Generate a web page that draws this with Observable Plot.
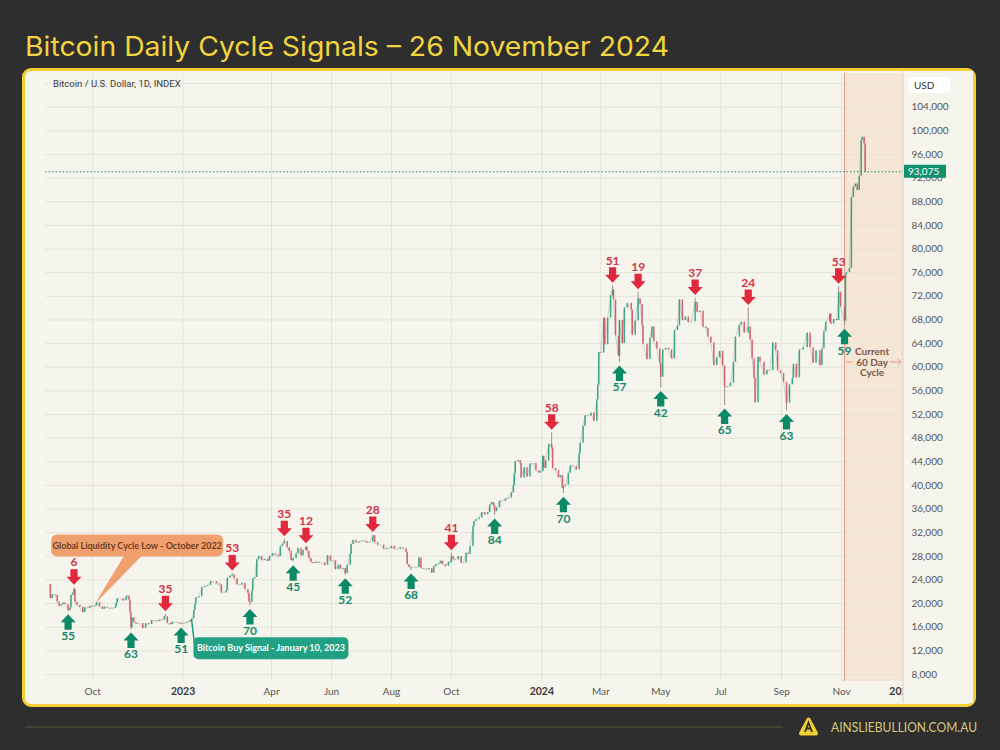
<!DOCTYPE html>
<html>
<head>
<meta charset="utf-8">
<script src="https://cdn.jsdelivr.net/npm/d3@7"></script>
<script src="https://cdn.jsdelivr.net/npm/@observablehq/plot@0.6"></script>
<style>
  html, body { margin:0; padding:0; }
  body { width:1000px; height:750px; background:#2e2e2e; position:relative; overflow:hidden; font-family: Lato, "Open Sans", sans-serif; }
  #card { position:absolute; left:22px; top:68px; width:954px; height:639px; box-sizing:border-box; border:3px solid #f2cf35; border-radius:9px; background:#f6f5ed; }
  #chart { position:absolute; left:25px; top:71px; }
  #sym { position:absolute; left:53px; top:78px; font-size:9.5px; color:#3a3a3a; font-family: Roboto, Lato, sans-serif; }
  #deco { position:absolute; left:0; top:0; }
</style>
</head>
<body>
<svg id="deco" width="1000" height="750">
  <text id="title" x="25" y="56" textLength="644" lengthAdjust="spacingAndGlyphs" font-family="Inter, Lato, sans-serif" font-size="27" fill="#f1d43f">Bitcoin Daily Cycle Signals – 26 November 2024</text>
  <line x1="25" y1="727" x2="783" y2="727" stroke="#5c5932" stroke-width="1"/>
  <path d="M808.5 719.5 L816 733.5 L801 733.5 Z" fill="#f2cf35" stroke="#f2cf35" stroke-width="4" stroke-linejoin="round"/>
  <path d="M805 732 L808.5 722.5 L812 732 M806.3 728.5 L810.7 728.5" fill="none" stroke="#2e2e2e" stroke-width="1.8"/>
  <text x="831" y="732" textLength="146" lengthAdjust="spacingAndGlyphs" font-family="Lato, sans-serif" font-size="13.5" fill="#d2c87a">AINSLIEBULLION.COM.AU</text>
</svg>
<div id="card"></div>
<div id="chart"></div>
<div id="sym">Bitcoin / U.S. Dollar, 1D, INDEX</div>
<script>
// ---------------- DATA ----------------
const series = [
["2022-08-18",23200],["2022-08-19",20850],["2022-08-21",21500],["2022-08-24",21400],["2022-08-26",20250],["2022-08-28",19550],["2022-08-30",19800],
["2022-09-01",20100],["2022-09-03",19850],["2022-09-06",18800],["2022-09-08",19300],["2022-09-09",21350],["2022-09-11",21800],["2022-09-12",22400],
["2022-09-13",20200],["2022-09-15",19700],["2022-09-18",19400],["2022-09-21",18500],["2022-09-23",19300],["2022-09-26",19200],["2022-09-28",19550],
["2022-09-30",19450],["2022-10-03",19600],["2022-10-05",20150],["2022-10-08",19450],["2022-10-11",19050],["2022-10-13",19400],["2022-10-16",19250],
["2022-10-19",19150],["2022-10-21",19200],["2022-10-24",19350],["2022-10-25",20100],["2022-10-26",20800],["2022-10-29",20800],["2022-11-01",20500],
["2022-11-04",21150],["2022-11-05",21300],["2022-11-07",20600],["2022-11-08",18550],["2022-11-09",15900],["2022-11-10",17600],["2022-11-12",16800],
["2022-11-14",16600],["2022-11-17",16650],["2022-11-21",15800],["2022-11-24",16600],["2022-11-27",16450],["2022-11-30",17150],["2022-12-02",17100],
["2022-12-05",16950],["2022-12-08",17200],["2022-12-10",17150],["2022-12-13",17800],["2022-12-14",17800],["2022-12-16",16650],["2022-12-19",16450],
["2022-12-21",16850],["2022-12-24",16850],["2022-12-27",16700],["2022-12-30",16600],
["2023-01-02",16680],["2023-01-05",16850],["2023-01-08",17100],["2023-01-10",17450],["2023-01-12",18850],["2023-01-13",19900],["2023-01-14",20950],
["2023-01-17",21150],["2023-01-20",22700],["2023-01-23",22900],["2023-01-26",23050],["2023-01-29",23750],["2023-02-01",23700],["2023-02-04",23350],
["2023-02-07",23200],["2023-02-09",21800],["2023-02-12",21800],["2023-02-14",22200],["2023-02-15",24300],["2023-02-18",24650],["2023-02-20",24850],
["2023-02-22",24200],["2023-02-25",23200],["2023-02-28",23150],["2023-03-02",23450],["2023-03-05",22400],["2023-03-08",21750],["2023-03-09",20350],
["2023-03-10",20200],["2023-03-12",22150],["2023-03-13",24200],["2023-03-15",24400],["2023-03-17",27400],["2023-03-19",28000],["2023-03-22",27300],
["2023-03-25",27500],["2023-03-28",27150],["2023-03-30",28000],["2023-04-02",28450],["2023-04-05",28200],["2023-04-08",27950],["2023-04-10",29650],
["2023-04-12",30100],["2023-04-14",30500],["2023-04-17",29450],["2023-04-19",28800],["2023-04-21",27300],["2023-04-23",27600],["2023-04-26",28400],
["2023-04-28",29350],["2023-05-01",28100],["2023-05-03",29000],["2023-05-06",29550],["2023-05-07",28850],["2023-05-09",27650],["2023-05-11",26950],
["2023-05-13",26800],["2023-05-16",27050],["2023-05-19",26900],["2023-05-22",26850],["2023-05-25",26450],["2023-05-28",28100],["2023-05-31",27200],
["2023-06-03",27250],["2023-06-05",25750],["2023-06-08",26500],["2023-06-10",25850],["2023-06-13",25950],["2023-06-15",25100],["2023-06-17",26500],
["2023-06-20",28300],["2023-06-21",30000],["2023-06-23",30700],["2023-06-26",30300],["2023-06-29",30450],["2023-07-02",30600],["2023-07-05",30500],
["2023-07-07",30300],["2023-07-10",30400],["2023-07-13",31500],["2023-07-15",30300],["2023-07-18",29900],["2023-07-21",29900],["2023-07-24",29200],
["2023-07-27",29350],["2023-07-30",29300],["2023-08-01",29700],["2023-08-04",29200],["2023-08-07",29200],["2023-08-10",29450],["2023-08-13",29300],
["2023-08-16",28700],["2023-08-17",26600],["2023-08-19",26100],["2023-08-21",26150],["2023-08-25",26100],["2023-08-28",26100],["2023-08-29",27700],
["2023-08-31",25950],["2023-09-03",25850],["2023-09-06",25750],["2023-09-08",25900],["2023-09-11",25150],["2023-09-13",26250],["2023-09-15",26600],
["2023-09-18",26750],["2023-09-20",27200],["2023-09-22",26600],["2023-09-25",26300],["2023-09-28",27000],["2023-09-30",26950],["2023-10-01",27950],
["2023-10-03",27450],["2023-10-05",27400],["2023-10-08",27950],["2023-10-11",26850],["2023-10-13",26850],["2023-10-16",28500],["2023-10-18",28350],
["2023-10-20",29650],["2023-10-23",33000],["2023-10-24",33900],["2023-10-26",34200],["2023-10-29",34500],["2023-11-01",35400],["2023-11-04",35050],
["2023-11-07",35400],["2023-11-09",36700],["2023-11-11",37100],["2023-11-13",36500],["2023-11-14",35550],["2023-11-16",36200],["2023-11-19",37350],
["2023-11-22",37300],["2023-11-25",37750],["2023-11-28",37850],["2023-12-01",38700],["2023-12-03",39950],["2023-12-04",41950],["2023-12-05",44050],
["2023-12-08",44200],["2023-12-10",43750],["2023-12-11",41250],["2023-12-14",43000],["2023-12-17",41400],["2023-12-20",43600],["2023-12-23",43700],
["2023-12-26",42500],["2023-12-29",42100],["2023-12-31",42300],
["2024-01-02",44950],["2024-01-03",42850],["2024-01-05",44150],["2024-01-08",46950],["2024-01-11",46350],["2024-01-12",42850],["2024-01-15",42500],
["2024-01-18",41300],["2024-01-20",41650],["2024-01-22",39550],["2024-01-23",39850],["2024-01-25",40050],["2024-01-28",42050],["2024-01-30",43300],
["2024-02-02",43200],["2024-02-05",42600],["2024-02-08",45300],["2024-02-09",47150],["2024-02-12",49950],["2024-02-14",51800],["2024-02-17",51700],
["2024-02-20",52200],["2024-02-23",50850],["2024-02-26",54500],["2024-02-27",57000],["2024-02-28",62500],["2024-03-01",62400],["2024-03-04",68300],
["2024-03-05",63800],["2024-03-08",68300],["2024-03-11",72100],["2024-03-13",73100],["2024-03-14",71400],["2024-03-16",65300],["2024-03-19",61900],
["2024-03-20",67900],["2024-03-23",64000],["2024-03-25",70000],["2024-03-28",70800],["2024-04-01",69700],["2024-04-02",65400],["2024-04-05",67800],
["2024-04-08",71600],["2024-04-10",70600],["2024-04-12",67100],["2024-04-13",63900],["2024-04-17",61300],["2024-04-20",64900],["2024-04-22",66800],
["2024-04-24",64300],["2024-04-27",63100],["2024-04-30",60600],["2024-05-01",58300],["2024-05-03",62900],["2024-05-06",63200],["2024-05-09",62950],
["2024-05-12",61450],["2024-05-14",61500],["2024-05-15",66200],["2024-05-18",67000],["2024-05-20",71400],["2024-05-23",67900],["2024-05-26",68500],
["2024-05-29",67600],["2024-06-01",67700],["2024-06-05",71000],["2024-06-07",69300],["2024-06-10",69500],["2024-06-13",66800],["2024-06-16",66600],
["2024-06-18",65100],["2024-06-21",64100],["2024-06-24",60300],["2024-06-27",61600],["2024-06-30",62700],["2024-07-03",60200],["2024-07-05",56600],
["2024-07-08",56700],["2024-07-11",57300],["2024-07-14",60800],["2024-07-16",65100],["2024-07-20",67100],["2024-07-22",67600],["2024-07-25",65800],
["2024-07-29",66800],["2024-07-31",64600],["2024-08-02",61400],["2024-08-04",58100],["2024-08-05",54000],["2024-08-08",61700],["2024-08-10",60900],
["2024-08-14",58700],["2024-08-17",59500],["2024-08-20",59400],["2024-08-23",64100],["2024-08-26",62800],["2024-08-28",59400],["2024-08-31",58950],
["2024-09-03",57450],["2024-09-06",53900],["2024-09-09",57000],["2024-09-12",58100],["2024-09-13",60500],["2024-09-16",58200],["2024-09-19",62900],
["2024-09-23",63300],["2024-09-27",65800],["2024-09-30",63300],["2024-10-03",60700],["2024-10-06",62800],["2024-10-10",60300],["2024-10-12",63100],
["2024-10-14",66000],["2024-10-16",67600],["2024-10-20",69000],["2024-10-21",67300],["2024-10-24",68100],["2024-10-27",67900],["2024-10-29",72700],
["2024-10-31",70200],["2024-11-04",67800],["2024-11-05",75600],["2024-11-06",76000],["2024-11-09",76700],["2024-11-11",88700],["2024-11-13",90500],
["2024-11-15",91000],["2024-11-17",89900],["2024-11-19",92300],["2024-11-21",98400],["2024-11-22",98900],["2024-11-24",97800],["2024-11-25",93100],
["2024-11-26",93075]
];

// sell signals (red, down arrows): date, high price, count
const sellSignals = [
["2022-09-12",22700,"6"],["2022-12-14",18200,"35"],["2023-02-20",25100,"53"],["2023-04-14",30900,"35"],["2023-05-06",29700,"12"],
["2023-07-13",31600,"28"],["2023-10-01",28500,"41"],["2024-01-11",48900,"58"],["2024-03-13",73800,"51"],["2024-04-08",72700,"19"],
["2024-06-05",71700,"37"],["2024-07-29",70000,"24"],["2024-10-29",73600,"53"]
];
// buy signals (green, up arrows): date, low price, count
const buySignals = [
["2022-09-06",18700,"55"],["2022-11-09",15600,"63"],["2022-12-30",16450,"51"],["2023-03-10",19600,"70"],["2023-04-23",27000,"45"],
["2023-06-15",24800,"52"],["2023-08-21",25600,"68"],["2023-11-14",34900,"84"],["2024-01-23",38600,"70"],["2024-03-20",60800,"57"],
["2024-05-01",56500,"42"],["2024-07-05",53500,"65"],["2024-09-06",52600,"63"],["2024-11-04",67000,"59"]
];

const monthTicks = ["2022-10-01","2023-04-01","2023-06-01","2023-08-01","2023-10-01","2024-03-01","2024-05-01","2024-07-01","2024-09-01","2024-11-01"];
const monthLabels = ["Oct","Apr","Jun","Aug","Oct","Mar","May","Jul","Sep","Nov"];
const yearTicks = ["2023-01-01","2024-01-01","2025-01-01"];
const yearLabels = ["2023","2024","2025"];
const priceTicks = [8000,12000,16000,20000,24000,28000,32000,36000,40000,44000,48000,52000,56000,60000,64000,68000,72000,76000,80000,84000,88000,92000,96000,100000,104000];
const gridPrices = [...priceTicks, 108000];
const currentPrice = 93075;
const cycleStart = "2024-11-04";
const cycleLabel = {date:"2024-12-02", price:60800, text:"Current\n60 Day\nCycle"};
const annotations = [
  {date:"2022-10-03", price:19600, text:"Global Liquidity Cycle Low - October 2022", kind:"orange"},
  {date:"2023-01-10", price:17450, text:"Bitcoin Buy Signal - January 10, 2023", kind:"teal"}
];
const xDomain = ["2022-08-14","2025-01-03"];
const yDomain = [6815, 109702];

// ---------------- BUILD ----------------
const D = s => new Date(s + "T00:00:00Z");
const pts = series.map(([d,c]) => ({date:D(d), close:c}));
const candles = pts.slice(1).map((p,i) => ({date:p.date, open:pts[i].close, close:p.close}));
const closeByDate = new Map(pts.map(p => [+p.date, p.close]));
const sells = sellSignals.map(([d,p,l]) => ({date:D(d), price:p, label:l, close: closeByDate.get(+D(d))}));
const buys = buySignals.map(([d,p,l]) => ({date:D(d), price:p, label:l, close: closeByDate.get(+D(d))}));
const mLab = new Map(monthTicks.map((d,i) => [+D(d), monthLabels[i]]));
const yLab = new Map(yearTicks.map((d,i) => [+D(d), yearLabels[i]]));

const UP = "#26a07e", DOWN = "#d2545f", RED = "#e2283c", GREEN = "#0c8a68";

const downArrow = { draw(ctx) {
  ctx.moveTo(0,0); ctx.lineTo(-7.5,-8); ctx.lineTo(-3.6,-8); ctx.lineTo(-3.6,-15.5);
  ctx.lineTo(3.6,-15.5); ctx.lineTo(3.6,-8); ctx.lineTo(7.5,-8); ctx.closePath(); } };
const upArrow = { draw(ctx) {
  ctx.moveTo(0,0); ctx.lineTo(-7.5,8); ctx.lineTo(-3.6,8); ctx.lineTo(-3.6,15.5);
  ctx.lineTo(3.6,15.5); ctx.lineTo(3.6,8); ctx.lineTo(7.5,8); ctx.closePath(); } };

const W = 948, H = 632;
const plot = Plot.plot({
  width: W, height: H,
  marginLeft: 20, marginRight: 70, marginTop: 2, marginBottom: 22,
  style: {background:"transparent", fontFamily:"Lato, 'Open Sans', sans-serif", fontSize:"10px", color:"#555"},
  x: {type:"utc", domain: xDomain.map(D)},
  y: {domain: yDomain},
  marks: [
    Plot.rect([{x1:D(cycleStart), x2:D(xDomain[1])}], {x1:"x1", x2:"x2", fill:"#f6dcc6", fillOpacity:0.6}),
    Plot.ruleY(gridPrices, {stroke:"#e6e4da", strokeWidth:1}),
    Plot.ruleX([...monthTicks, ...yearTicks].map(D), {stroke:"#e6e4da", strokeWidth:1}),
    Plot.ruleX([D(cycleStart)], {stroke:"#e4a193", strokeWidth:1.2}),
    Plot.ruleY([currentPrice], {stroke:"#159070", strokeDasharray:"1.5,2", strokeWidth:1}),
    Plot.line(pts, {x:"date", y:"close", stroke:"#8d8d8d", strokeWidth:0.7, strokeOpacity:0.55}),
    Plot.ruleX([...sells, ...buys].filter(d => d.close != null), {x:"date", y1:"close", y2:"price", stroke:"#9a8f8f", strokeWidth:1}),
    Plot.ruleX(candles, {x:"date", y1:"open", y2:"close", stroke: d => d.close >= d.open ? UP : DOWN, strokeWidth:1.5, strokeOpacity:0.9}),
    Plot.dot(sells, {x:"date", y:"price", dy:-3, symbol: downArrow, fill: RED, stroke:"none", r:5}),
    Plot.dot(buys, {x:"date", y:"price", dy:3, symbol: upArrow, fill: GREEN, stroke:"none", r:5}),
    Plot.text(sells, {x:"date", y:"price", text:"label", dy:-25, fill:"#d3344a", fontWeight:"bold", fontSize:12}),
    Plot.text(buys, {x:"date", y:"price", text:"label", dy:25, fill:"#168a6a", fontWeight:"bold", fontSize:12}),
    Plot.text([cycleLabel], {x: d => D(d.date), y:"price", text:"text", fill:"#7a5948", fontWeight:"bold", fontSize:10, lineHeight:1.05}),
    Plot.axisX(monthTicks.map(D), {tickSize:0, tickPadding:6, tickFormat: d => mLab.get(+d), fill:"#555", fontSize:10}),
    Plot.axisX(yearTicks.map(D), {tickSize:0, tickPadding:6, tickFormat: d => yLab.get(+d), fill:"#3a3a3a", fontWeight:"bold", fontSize:10.5}),
    Plot.axisY(priceTicks, {anchor:"right", tickSize:0, tickPadding:8, tickFormat: d3.format(","), fill:"#555", fontSize:10})
  ]
});
document.getElementById("chart").appendChild(plot);

// ---------------- POST: panel, labels, annotations ----------------
const svg = d3.select(plot);
const xs = plot.scale("x"), ys = plot.scale("y");
const plotRight = W - 70;
const firstY = plot.querySelector("g[aria-label^='y-axis']");
const panel = document.createElementNS("http://www.w3.org/2000/svg","rect");
panel.setAttribute("x", plotRight); panel.setAttribute("y", 0);
panel.setAttribute("width", W - plotRight); panel.setAttribute("height", H);
panel.setAttribute("fill", "#f6f5ed");
plot.insertBefore(panel, firstY);
const divider = document.createElementNS("http://www.w3.org/2000/svg","line");
divider.setAttribute("x1", plotRight); divider.setAttribute("x2", plotRight);
divider.setAttribute("y1", 0); divider.setAttribute("y2", H);
divider.setAttribute("stroke", "#dcd5cc"); divider.setAttribute("stroke-width", 1.2);
plot.insertBefore(divider, firstY);

const ov = svg.append("g").attr("text-anchor", "start");
ov.append("rect").attr("x", plotRight + 5).attr("y", 6).attr("width", 42).attr("height", 16).attr("rx", 3).attr("fill", "#ffffff");
ov.append("text").attr("x", plotRight + 11).attr("y", 17.5).attr("font-size", 10).attr("fill", "#333").text("USD");
const cy = ys.apply(currentPrice);
ov.append("rect").attr("x", plotRight + 1).attr("y", cy - 6.5).attr("width", 42).attr("height", 13).attr("fill", "#12906c");
ov.append("text").attr("x", plotRight + 5).attr("y", cy + 3.6).attr("font-size", 10).attr("fill", "#fff").text(d3.format(",")(currentPrice));

const cx0 = xs.apply(D(cycleStart)), lx = xs.apply(D(cycleLabel.date)), ly = ys.apply(cycleLabel.price);
ov.append("line").attr("x1", cx0 + 2).attr("x2", lx - 19).attr("y1", ly).attr("y2", ly).attr("stroke", "#e49a95").attr("stroke-width", 1);
ov.append("line").attr("x1", lx + 18).attr("x2", plotRight - 2).attr("y1", ly).attr("y2", ly).attr("stroke", "#e49a95").attr("stroke-width", 1);
ov.append("path").attr("d", `M${plotRight-5},${ly-3} L${plotRight-2},${ly} L${plotRight-5},${ly+3}`).attr("fill", "none").attr("stroke", "#e49a95").attr("stroke-width", 1);

for (const a of annotations) {
  const ax = xs.apply(D(a.date)), ay = ys.apply(a.price);
  if (a.kind === "orange") {
    const bx = ax - 43, by = ay - 71, bw = 172, bh = 22;
    ov.append("path").attr("d", `M${ax+30},${by+bh-1} L${ax+48},${by+bh-1} L${ax+1},${ay-2} Z`).attr("fill", "#f0a06e");
    ov.append("rect").attr("x", bx).attr("y", by).attr("width", bw).attr("height", bh).attr("rx", 6).attr("fill", "#f0a06e");
    ov.append("text").attr("x", bx + bw/2).attr("y", by + bh/2 + 3.2).attr("text-anchor", "middle").attr("font-size", 9).attr("font-weight", "bold").attr("fill", "#6e3d22").text(a.text);
  } else {
    const bx = ax + 2, by = ay + 19, bw = 155, bh = 22;
    ov.append("line").attr("x1", ax).attr("y1", ay + 1).attr("x2", bx + 1).attr("y2", by + 6).attr("stroke", "#1f9a7e").attr("stroke-width", 1.5);
    ov.append("rect").attr("x", bx).attr("y", by).attr("width", bw).attr("height", bh).attr("rx", 5).attr("fill", "#22a083");
    ov.append("text").attr("x", bx + bw/2).attr("y", by + bh/2 + 3.2).attr("text-anchor", "middle").attr("font-size", 9).attr("font-weight", "bold").attr("fill", "#ffffff").text(a.text);
  }
}
</script>
</body>
</html>
